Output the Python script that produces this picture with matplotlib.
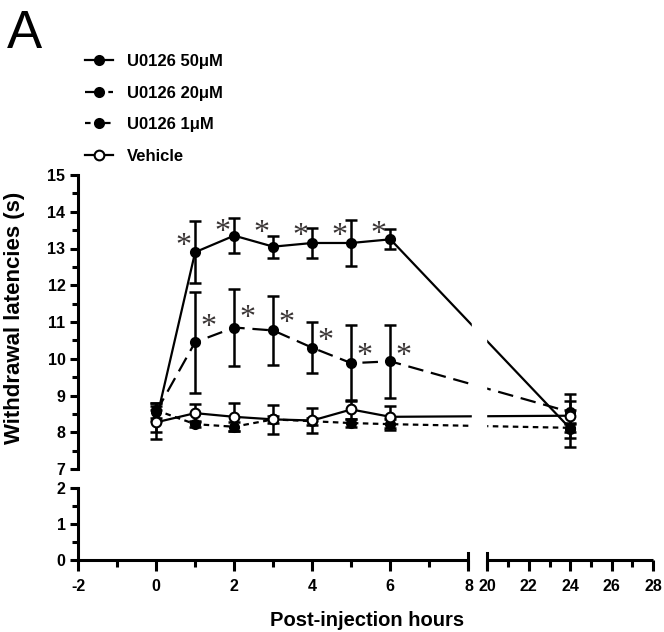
import matplotlib
matplotlib.use("Agg")
import matplotlib.pyplot as plt
import numpy as np

plt.rcParams['font.family'] = ['Liberation Sans', 'DejaVu Sans']

# data
hours = [0, 1, 2, 3, 4, 5, 6, 24]
u50 = [8.3, 12.9, 13.35, 13.05, 13.15, 13.15, 13.25, 8.1]
u50_err = [0.3, 0.85, 0.48, 0.3, 0.42, 0.62, 0.27, 0.5]
u20 = [8.55, 10.45, 10.85, 10.77, 10.3, 9.88, 9.93, 8.55]
u20_err = [0.25, 1.37, 1.06, 0.93, 0.7, 1.03, 1.0, 0.3]
u1 = [8.6, 8.22, 8.15, 8.35, 8.3, 8.25, 8.22, 8.12]
u1_err = [0.2, 0.08, 0.12, 0.1, 0.1, 0.1, 0.15, 0.1]
veh = [8.27, 8.52, 8.42, 8.35, 8.32, 8.62, 8.42, 8.45]
veh_err = [0.45, 0.25, 0.38, 0.4, 0.35, 0.25, 0.3, 0.6]

# significance stars (hour, y)
star50_h = [1, 2, 3, 4, 5, 6]
star50_y = [13.05, 13.44, 13.41, 13.32, 13.32, 13.38]
star20_h = [1, 2, 3, 4, 5, 6]
star20_y = [10.86, 11.09, 10.95, 10.47, 10.05, 10.05]

labels = ['U0126 50\u03bcM', 'U0126 20\u03bcM', 'U0126 1\u03bcM', 'Vehicle']

left_major = [-2, 0, 2, 4, 6, 8]
left_minor = [-1, 1, 3, 5, 7]
right_major = [20, 22, 24, 26, 28]
right_minor = [21, 23, 25, 27]

GAP = 0.486
RSCALE = 0.53


def xmap(h):
    h = np.asarray(h, dtype=float)
    return np.where(h <= 8, h, 8 + GAP + (h - 20) * RSCALE)


XMIN = -2
XMAX = float(xmap(28))

W, H = 664, 632
fig = plt.figure(figsize=(W / 100, H / 100), dpi=100)

x0, x1 = 78, 653
ax = fig.add_axes([x0 / W, 1 - 469 / H, (x1 - x0) / W, (469 - 175) / H])
ax2 = fig.add_axes([x0 / W, 1 - 560 / H, (x1 - x0) / W, (560 - 488) / H])

lw_axis = 2.2

xs = xmap(hours)
series = [
    (u50, u50_err, '-', 'k', 4),
    (u20, u20_err, (0, (7, 3.5)), 'k', 3),
    (u1, u1_err, (0, (2.5, 2)), 'k', 2),
    (veh, veh_err, '-', 'white', 5),
]
handles = []
for (vals, errs, ls, fc, z), lab in zip(series, labels):
    ax.errorbar(xs, vals, yerr=errs, fmt='none', ecolor='k', elinewidth=1.8,
                capsize=4.5, capthick=1.8, zorder=z)
    h, = ax.plot(xs, vals, linestyle=ls, color='k', lw=1.6, marker='o',
                 markersize=7 if fc == 'white' else 6.5, markerfacecolor=fc,
                 markeredgecolor='k', markeredgewidth=1.5, zorder=z + 0.5,
                 label=lab)
    handles.append(h)

# gap in the lines at the x break
ax.axvspan(8.1, 8.46, color='white', zorder=20)

for hh, yy in zip(star50_h, star50_y):
    ax.text(float(xmap(hh)) - 0.3, yy, '*', fontsize=23, color='#3a3535',
            family='Liberation Serif', ha='center', va='center', zorder=25)
for hh, yy in zip(star20_h, star20_y):
    ax.text(float(xmap(hh)) + 0.33, yy, '*', fontsize=23, color='#3a3535',
            family='Liberation Serif', ha='center', va='center', zorder=25)

# upper axes
ax.set_xlim(XMIN, XMAX)
ax.set_ylim(7, 15)
for s in ['top', 'right', 'bottom']:
    ax.spines[s].set_visible(False)
ax.spines['left'].set_linewidth(lw_axis)
ax.set_xticks([])
ax.set_yticks(range(7, 16))
ax.set_yticks(np.arange(7.5, 15, 1), minor=True)
ax.tick_params(axis='y', which='major', length=6, width=lw_axis, pad=3)
ax.tick_params(axis='y', which='minor', length=4, width=lw_axis)
for t in ax.get_yticklabels():
    t.set_fontweight('bold')
    t.set_fontsize(11.5)

# lower axes
ax2.set_xlim(XMIN, XMAX)
ax2.set_ylim(0, 2)
for s in ['top', 'right', 'bottom']:
    ax2.spines[s].set_visible(False)
ax2.spines['left'].set_linewidth(lw_axis)
ax2.set_yticks([0, 1, 2])
ax2.set_yticks([0.5, 1.5], minor=True)
ax2.tick_params(axis='y', which='major', length=6, width=lw_axis, pad=3)
ax2.tick_params(axis='y', which='minor', length=4, width=lw_axis)
ax2.set_xticks(xmap(left_major + right_major))
ax2.set_xticklabels([str(v) for v in left_major + right_major])
ax2.set_xticks(xmap(left_minor + right_minor), minor=True)
ax2.tick_params(axis='x', which='major', length=8, width=lw_axis, pad=6)
ax2.tick_params(axis='x', which='minor', length=5, width=lw_axis)
for t in ax2.get_xticklabels() + ax2.get_yticklabels():
    t.set_fontweight('bold')
    t.set_fontsize(11.5)

# broken bottom axis
xr0 = float(xmap(20))
ax2.plot([XMIN, 8], [0, 0], color='k', lw=lw_axis, clip_on=False,
         solid_capstyle='butt')
ax2.plot([xr0, XMAX], [0, 0], color='k', lw=lw_axis, clip_on=False,
         solid_capstyle='butt')
for xb in [8, xr0]:
    ax2.plot([xb, xb], [-0.2, 0.2], color='k', lw=lw_axis, clip_on=False)

fig.text(367 / W, 1 - 620 / H, 'Post-injection hours', ha='center',
         va='center', fontsize=14.5, fontweight='bold')
fig.text(15 / W, 1 - 318 / H, 'Withdrawal latencies (s)', ha='center',
         va='center', rotation=90, fontsize=16, fontweight='bold')
fig.text(7 / W, 1 - 34 / H, 'A', ha='left', va='center', fontsize=38)

leg = fig.legend(handles, labels, loc='upper left',
                 bbox_to_anchor=(85 / W, 1 - 54 / H), frameon=False,
                 handlelength=1.65, handletextpad=0.85, labelspacing=1.0,
                 borderaxespad=0, borderpad=0,
                 prop=dict(weight='bold', size=12))

fig.savefig('out.png', dpi=100)
